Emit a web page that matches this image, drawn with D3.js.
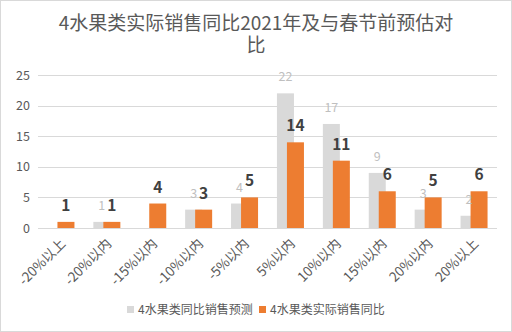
<!DOCTYPE html>
<html><head><meta charset="utf-8">
<script src="https://cdn.jsdelivr.net/npm/d3@7"></script>
<style>
html,body{margin:0;padding:0;background:#fff;}
svg{display:block;font-family:"Noto Sans CJK SC","Noto Sans",sans-serif;}
</style></head>
<body>
<script>
const categories = ["-20%以上","-20%以内","-15%以内","-10%以内","-5%以内","5%以内","10%以内","15%以内","20%以内","20%以上"];
const forecast = [0,1,0,3,4,22,17,9,3,2];
const actual = [1,1,4,3,5,14,11,6,5,6];
const seriesNames = ["4水果类同比销售预测","4水果类实际销售同比"];
const yTicks = [0,5,10,15,20,25];
const titleLines = ["4水果类实际销售同比2021年及与春节前预估对","比"];

const W=512,H=332;
const svg=d3.select("body").append("svg").attr("width",W).attr("height",H);
svg.append("rect").attr("x",0.5).attr("y",0.5).attr("width",W-1).attr("height",H-1)
  .attr("fill","#fff").attr("stroke","#d9d9d9");

const x=d3.scaleBand().domain(categories).range([38,497]).padding(0);
const y=d3.scaleLinear().domain([0,25]).range([228,75]);

// title (single text, two lines)
const tt=svg.append("text").attr("text-anchor","middle").attr("font-size",19).attr("fill","#595959");
tt.selectAll("tspan").data(titleLines).join("tspan")
  .attr("x",256).attr("y",(d,i)=>30+i*22).text(d=>d);

// grid
svg.append("g").selectAll("line").data(yTicks).join("line")
  .attr("x1",38).attr("x2",497).attr("y1",d=>Math.round(y(d))+0.5).attr("y2",d=>Math.round(y(d))+0.5)
  .attr("stroke","#d9d9d9").attr("stroke-width",1);

// y axis
const ya=svg.append("g").attr("transform","translate(38,0)")
  .call(d3.axisLeft(y).tickValues(yTicks).tickSize(0).tickPadding(8));
ya.select(".domain").remove();
ya.selectAll("text").attr("font-size",12.5).attr("fill","#595959").attr("font-family","Noto Sans CJK SC");

const bw=17, off=5;
const g=svg.append("g");
g.selectAll("rect.f").data(forecast).join("rect").attr("class","f")
  .attr("x",(d,i)=>x(categories[i])+x.bandwidth()/2-off-bw/2)
  .attr("y",d=>y(d)).attr("width",bw).attr("height",d=>y(0)-y(d)).attr("fill","#d9d9d9");
g.selectAll("rect.a").data(actual).join("rect").attr("class","a")
  .attr("x",(d,i)=>x(categories[i])+x.bandwidth()/2+off-bw/2)
  .attr("y",d=>y(d)).attr("width",bw).attr("height",d=>y(0)-y(d)).attr("fill","#ed7d31");

// labels
g.selectAll("text.f").data(forecast).join("text").attr("class","f")
  .attr("x",(d,i)=>x(categories[i])+x.bandwidth()/2-off)
  .attr("y",d=>y(d)-12).attr("text-anchor","middle").attr("font-size",12.5)
  .attr("fill","#bfbfbf").text(d=>d===0?"":d);
g.selectAll("text.a").data(actual).join("text").attr("class","a")
  .attr("x",(d,i)=>x(categories[i])+x.bandwidth()/2+off)
  .attr("y",d=>y(d)-11).attr("text-anchor","middle").attr("font-size",15.5).attr("font-weight","bold")
  .attr("fill","#404040").text(d=>d);

// x axis labels
svg.append("g").selectAll("text").data(categories).join("text")
  .attr("transform",d=>`translate(${x(d)+x.bandwidth()/2+2},${241}) rotate(-45)`)
  .attr("text-anchor","end").attr("dy","0.35em").attr("font-size",13.5).attr("fill","#595959").text(d=>d);

// legend
const lg=svg.append("g");
const items=[{n:seriesNames[0],c:"#d9d9d9",x:127},{n:seriesNames[1],c:"#ed7d31",x:259}];
items.forEach(it=>{
  lg.append("rect").attr("x",it.x).attr("y",306).attr("width",7).attr("height",7).attr("fill",it.c);
  lg.append("text").attr("x",it.x+11).attr("y",310).attr("dy","0.35em").attr("font-size",12).attr("fill","#595959").text(it.n);
});
</script>
</body></html>
